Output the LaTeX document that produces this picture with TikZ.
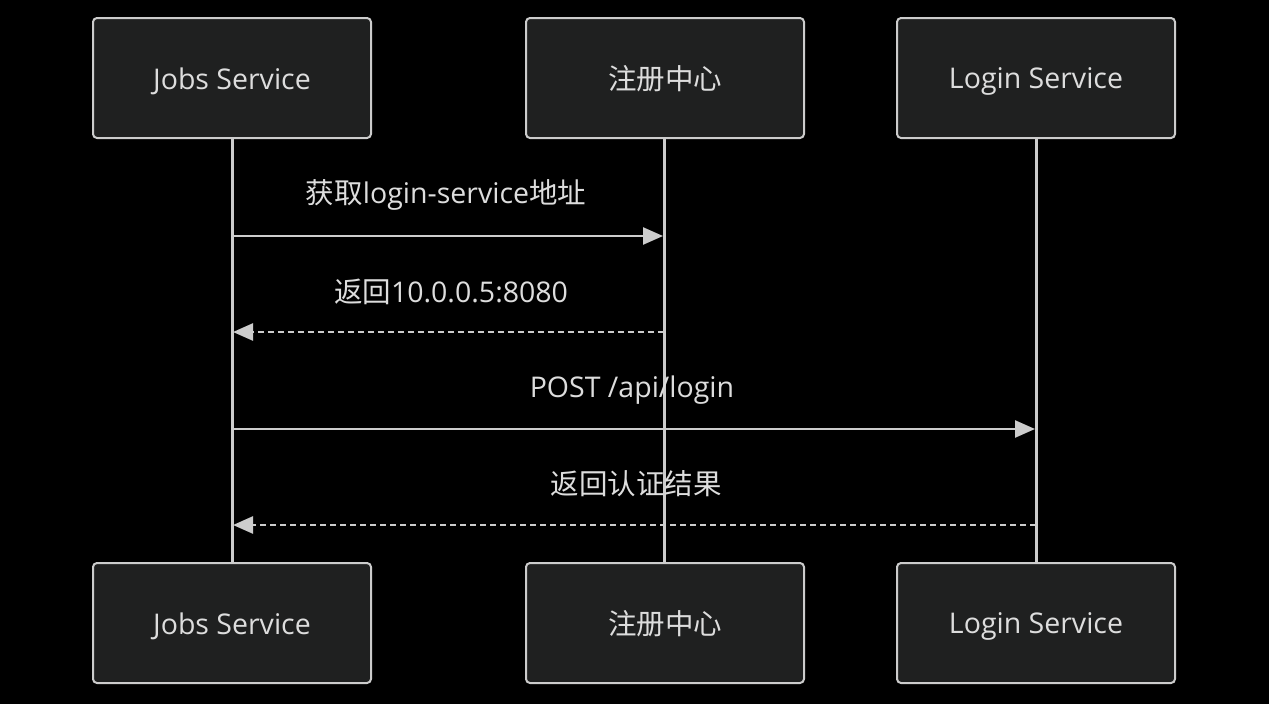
\documentclass[tikz,border=0pt]{standalone}
\usepackage{fontspec}
\setmainfont{Open Sans}
\newfontfamily\cjk{Noto Sans CJK SC}
\usetikzlibrary{arrows.meta}
\definecolor{bg}{HTML}{000000}
\definecolor{boxfill}{HTML}{1F2020}
\definecolor{edge}{HTML}{CCCCCC}
\definecolor{txt}{HTML}{DDDDDD}
\newcommand{\zh}[1]{{\cjk #1}}
\begin{document}
\begin{tikzpicture}[x=1pt,y=-1pt,
  actor/.style={draw=edge,fill=boxfill,line width=2pt,rounded corners=4pt,
    minimum width=278pt,minimum height=120pt,inner sep=0pt,
    text=txt,font=\fontsize{28.5}{32}\selectfont},
  lifeline/.style={draw=edge,line width=3pt},
  msg/.style={draw=edge,line width=2.5pt,-{Triangle[length=20pt,width=17pt]}},
  reply/.style={msg,dash pattern=on 6pt off 4pt},
  lbl/.style={text=txt,font=\fontsize{28.5}{32}\selectfont,inner sep=0pt}]
\fill[bg] (0,0) rectangle (1269,704);
\useasboundingbox (0,0) rectangle (1269,704);
% lifelines
\coordinate (j1) at (232,138); \coordinate (j2) at (232,563);
\coordinate (r1) at (664,138); \coordinate (r2) at (664,563);
\coordinate (l1) at (1036,138); \coordinate (l2) at (1036,563);
\draw[lifeline] (j1) -- (j2);
\draw[lifeline] (r1) -- (r2);
\draw[lifeline] (l1) -- (l2);
% actors
\node[actor] (jt) at (232,78) {};
\node[actor] (rt) at (665,78) {};
\node[actor] (lt) at (1036,78) {};
\node[actor] (jb) at (232,623) {};
\node[actor] (rb) at (665,623) {};
\node[actor] (lb) at (1036,623) {};
\node[lbl] at (232,81) {Jobs Service};
\node[lbl] at (665,79) {\zh{注册中心}};
\node[lbl] at (1036,81) {Login Service};
\node[lbl] at (232,626) {Jobs Service};
\node[lbl] at (665,624) {\zh{注册中心}};
\node[lbl] at (1036,626) {Login Service};
% messages
\coordinate (m1a) at (232,236); \coordinate (m1b) at (663,236);
\coordinate (m2a) at (664,332); \coordinate (m2b) at (233,332);
\coordinate (m3a) at (232,429); \coordinate (m3b) at (1035,429);
\coordinate (m4a) at (1036,525); \coordinate (m4b) at (233,525);
\draw[msg] (m1a) -- (m1b);
\draw[reply] (m2a) -- (m2b);
\draw[msg] (m3a) -- (m3b);
\draw[reply] (m4a) -- (m4b);
\node[lbl] (t1) at (446,195) {\zh{获取}login-service\zh{地址}};
\node[lbl] (t2) at (451,292) {\zh{返回}10.0.0.5:8080};
\node[lbl] (t3) at (632,390) {POST /api/login};
\node[lbl] (t4) at (636,484) {\zh{返回认证结果}};
\end{tikzpicture}
\end{document}
